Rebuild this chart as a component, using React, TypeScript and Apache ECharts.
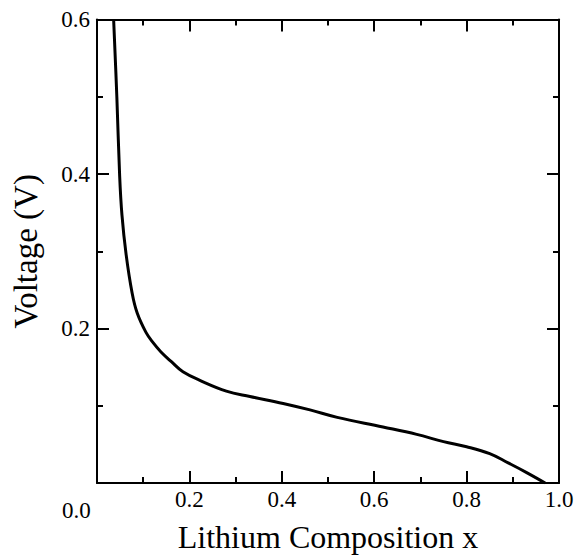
import React, { useEffect, useRef } from "react";
import * as echarts from "echarts";

const compositionX = [0.036, 0.043, 0.049, 0.054, 0.063, 0.076, 0.087, 0.106, 0.121, 0.138, 0.161, 0.186, 0.226, 0.28, 0.331, 0.403, 0.461, 0.52, 0.619, 0.692, 0.75, 0.8, 0.85, 0.89, 0.93, 0.97];
const voltage = [0.6, 0.499, 0.398, 0.347, 0.296, 0.246, 0.22, 0.195, 0.182, 0.17, 0.157, 0.144, 0.132, 0.119, 0.112, 0.103, 0.0946, 0.085, 0.0725, 0.0629, 0.0536, 0.047, 0.038, 0.026, 0.0135, 0];

const xTitle = "Lithium Composition x";
const yTitle = "Voltage (V)";
const FONT = "Liberation Serif";

export default function App() {
  const ref = useRef<HTMLDivElement>(null);
  useEffect(() => {
    if (!ref.current) return;
    const chart = echarts.init(ref.current, undefined, { renderer: "svg" });
    const axisLine = { show: true, onZero: false, lineStyle: { color: "#000", width: 2 } };
    const tick = { show: true, inside: true, length: 12, lineStyle: { color: "#000", width: 2 } };
    const minor = { show: true, splitNumber: 2, length: 6, lineStyle: { color: "#000", width: 2 } };
    const data = compositionX.map((x, i) => [x, voltage[i]]);
    chart.setOption({
      animation: false,
      backgroundColor: "#fff",
      grid: { left: 97, right: 27, top: 19.5, bottom: 64, containLabel: false },
      xAxis: [
        {
          type: "value", min: 0, max: 1, interval: 0.2, position: "bottom",
          axisLine, axisTick: tick, minorTick: minor, splitLine: { show: false },
          axisLabel: {
            color: "#000", fontFamily: FONT, fontSize: 23, margin: 5,
            formatter: (v: number) => (v === 0 ? "" : v.toFixed(1)),
          },
          name: xTitle, nameLocation: "middle", nameGap: 38,
          nameTextStyle: { color: "#000", fontFamily: FONT, fontSize: 32 },
        },
        {
          type: "value", min: 0, max: 1, interval: 0.2, position: "top",
          axisLine, axisTick: tick, minorTick: minor, splitLine: { show: false },
          axisLabel: { show: false },
        },
      ],
      yAxis: [
        {
          type: "value", min: 0, max: 0.6, interval: 0.2, position: "left",
          axisLine, axisTick: tick, minorTick: minor, splitLine: { show: false },
          axisLabel: {
            color: "#000", fontFamily: FONT, fontSize: 23, margin: 7,
            formatter: (v: number) => (v === 0 ? "" : v.toFixed(1)),
          },
          name: yTitle, nameLocation: "middle", nameGap: 55,
          nameTextStyle: { color: "#000", fontFamily: FONT, fontSize: 33 },
        },
        {
          type: "value", min: 0, max: 0.6, interval: 0.2, position: "right",
          axisLine, axisTick: tick, minorTick: minor, splitLine: { show: false },
          axisLabel: { show: false },
        },
      ],
      graphic: [
        {
          type: "text", left: 62, top: 499,
          style: { text: "0.0", fill: "#000", fontFamily: FONT, fontSize: 23 },
        },
      ],
      series: [
        {
          type: "line", data, smooth: 0.4, showSymbol: false, symbol: "none",
          lineStyle: { color: "#000", width: 3 }, clip: true,
        },
      ],
    });
    return () => chart.dispose();
  }, []);
  return <div ref={ref} style={{ position: "fixed", left: 0, top: 0, width: 586, height: 558 }} />;
}
